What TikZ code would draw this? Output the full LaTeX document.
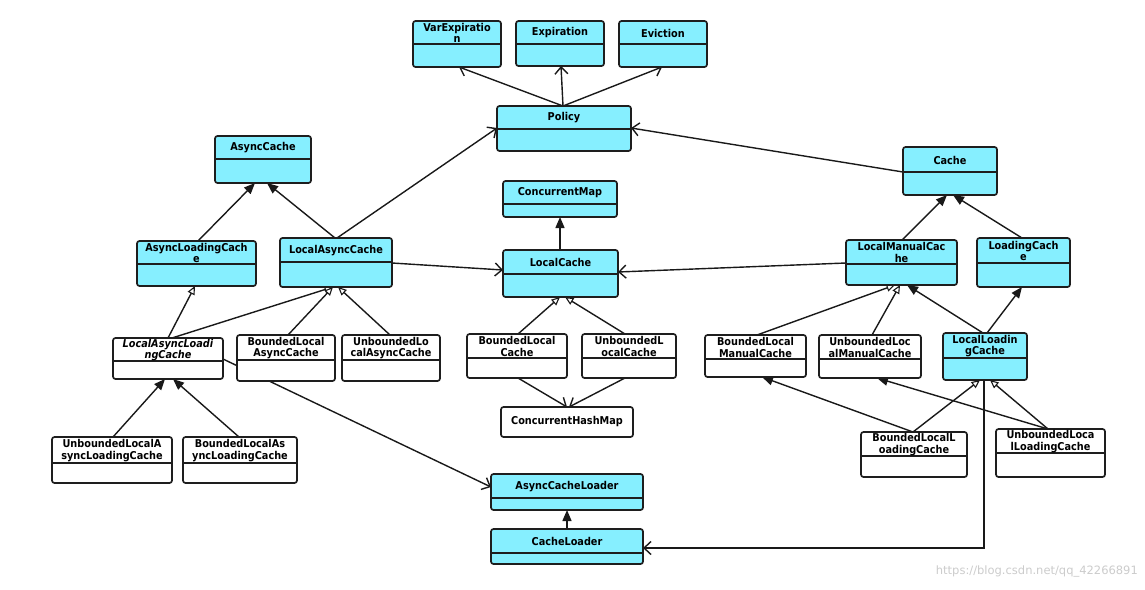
\documentclass[tikz,border=0pt]{standalone}
\usepackage{fontspec}
\setmainfont{DejaVu Sans}
\newfontfamily\classfont{DejaVu Sans Condensed}
\usetikzlibrary{arrows.meta,calc}
\definecolor{classcyan}{RGB}{134,239,255}
\definecolor{boxline}{RGB}{30,30,30}
\pgfdeclarelayer{bglayer}
\pgfdeclarelayer{edgelayer}
\pgfsetlayers{bglayer,edgelayer,main}
\tikzset{
  classbox/.style={draw=boxline, line width=1.7pt, rounded corners=2.5pt, inner sep=0pt, outer sep=0pt},
  cyanbox/.style={fill=classcyan},
  whitebox/.style={fill=white},
  divider/.style={draw=boxline, line width=1.5pt},
  classtext/.style={font=\classfont\bfseries\fontsize{10.8}{11.5}\selectfont, align=center, inner sep=0pt, text=black},
  conn/.style={draw=black!90, line width=1.4pt},
  assoc/.style={conn, -{Straight Barb[length=7pt,width=13pt,line width=1.4pt]}},
  filled/.style={conn, -{Triangle[length=11pt,width=9pt]}},
  hollow/.style={conn, -{Triangle[open,length=8.5pt,width=7.5pt,fill=white,line width=1.1pt]}},
}
% name, x1, y1, x2, y2, divider y, text, fill style
\newcommand{\umlclass}[8]{%
  \node[classbox,#8,minimum width={#4-#2},minimum height={#5-#3}] (#1) at ({(#2+#4)/2},{(#3+#5)/2}) {};
  \draw[divider] ({#2},{#6}) -- ({#4},{#6});
  \node[classtext] (#1-t) at ({(#2+#4)/2},{(#3+#6)/2+0.5}) {#7};
}
\newcommand{\umlsingle}[7]{%
  \node[classbox,#7,minimum width={#4-#2},minimum height={#5-#3}] (#1) at ({(#2+#4)/2},{(#3+#5)/2}) {};
  \node[classtext] (#1-t) at ({(#2+#4)/2},{(#3+#5)/2}) {#6};
}
\begin{document}
\begin{tikzpicture}[x=1pt,y=-1pt]
\begin{pgfonlayer}{bglayer}
\fill[white] (0,0) rectangle (1145,589);
\end{pgfonlayer}
\useasboundingbox (0,0) rectangle (1145,589);

% top row
\umlclass{varexp}{413}{21}{501}{67}{44}{VarExpiratio\\n}{cyanbox}
\umlclass{expir}{516}{21}{604}{66}{44}{Expiration}{cyanbox}
\umlclass{evict}{619}{21}{707}{67}{44}{Eviction}{cyanbox}
\umlclass{policy}{497}{106}{631}{151}{129}{Policy}{cyanbox}

% left part
\umlclass{asynccache}{215}{136}{311}{183}{159}{AsyncCache}{cyanbox}
\umlclass{alc}{137}{241}{256}{286}{264}{AsyncLoadingCach\\e}{cyanbox}
\umlclass{lac}{280}{238}{392}{287}{262}{LocalAsyncCache}{cyanbox}
\umlclass{lalc}{113}{338}{223}{379}{361}{\itshape LocalAsyncLoadi\\\itshape ngCache}{whitebox}
\umlclass{blac}{237}{335}{335}{381}{360}{BoundedLocal\\AsyncCache}{whitebox}
\umlclass{ublac}{342}{335}{440}{381}{360}{UnboundedLo\\calAsyncCache}{whitebox}
\umlclass{ulalc}{52}{437}{172}{483}{463}{UnboundedLocalA\\syncLoadingCache}{whitebox}
\umlclass{blalc}{183}{437}{297}{483}{463}{BoundedLocalAs\\yncLoadingCache}{whitebox}

% centre
\umlclass{cmap}{503}{181}{617}{217}{204}{ConcurrentMap}{cyanbox}
\umlclass{lcache}{503}{250}{618}{297}{274}{LocalCache}{cyanbox}
\umlclass{blc}{467}{334}{567}{378}{358}{BoundedLocal\\Cache}{whitebox}
\umlclass{ublc}{582}{334}{676}{378}{358}{UnboundedL\\ocalCache}{whitebox}
\umlsingle{chm}{501}{407}{633}{437}{ConcurrentHashMap}{whitebox}
\umlclass{acl}{491}{474}{643}{510}{498}{AsyncCacheLoader}{cyanbox}
\umlclass{cl}{491}{529}{643}{564}{553}{CacheLoader}{cyanbox}

% right part
\umlclass{cache}{903}{147}{997}{195}{172}{Cache}{cyanbox}
\umlclass{lmc}{846}{240}{957}{285}{264}{LocalManualCac\\he}{cyanbox}
\umlclass{lc}{977}{238}{1070}{287}{263}{LoadingCach\\e}{cyanbox}
\umlclass{blmc}{705}{335}{806}{377}{359}{BoundedLocal\\ManualCache}{whitebox}
\umlclass{ublmc}{819}{335}{921}{378}{359}{UnboundedLoc\\alManualCache}{whitebox}
\umlclass{llc}{943}{333}{1027}{380}{358}{LocalLoadin\\gCache}{cyanbox}
\umlclass{bllc}{861}{432}{967}{477}{456}{BoundedLocalL\\oadingCache}{whitebox}
\umlclass{ubllc}{996}{429}{1105}{477}{453}{UnboundedLoca\\lLoadingCache}{whitebox}

\node[font=\fontsize{11.5}{13}\selectfont, text=black!20, anchor=east, inner sep=0pt] (wm) at (1138,571) {https://blog.csdn.net/qq\_42266891};

\begin{pgfonlayer}{edgelayer}
\draw[assoc] (563,0 |- policy.north) -- (459,0 |- varexp.south);
\draw[assoc] (563,0 |- policy.north) -- (561,0 |- expir.south);
\draw[assoc] (563,0 |- policy.north) -- (662,0 |- evict.south);
\draw[assoc] (337,0 |- lac.north) -- (policy.west |- 0,128);
\draw[assoc] (cache.west |- 0,172) -- (policy.east |- 0,128);
\draw[filled] (198,0 |- alc.north) -- (255,0 |- asynccache.south);
\draw[filled] (335,0 |- lac.north) -- (267,0 |- asynccache.south);
\draw[assoc] (lac.east |- 0,263) -- (lcache.west |- 0,270);
\draw[assoc] (lmc.west |- 0,263) -- (lcache.east |- 0,272);
\draw[filled] (560,0 |- lcache.north) -- (560,0 |- cmap.south);
\draw[filled] (902,0 |- lmc.north) -- (947,0 |- cache.south);
\draw[filled] (1022,0 |- lc.north) -- (953,0 |- cache.south);
\draw[hollow] (168,0 |- lalc.north) -- (195,0 |- alc.south);
\draw[hollow] (172,0 |- lalc.north) -- (333,0 |- lac.south);
\draw[hollow] (288,0 |- blac.north) -- (333,0 |- lac.south);
\draw[hollow] (390,0 |- ublac.north) -- (338,0 |- lac.south);
\draw[filled] (113,0 |- ulalc.north) -- (165,0 |- lalc.south);
\draw[filled] (239,0 |- blalc.north) -- (173,0 |- lalc.south);
\draw[assoc] (lalc.east |- 0,359) -- (acl.west |- 0,487);
\draw[hollow] (518,0 |- blc.north) -- (560,0 |- lcache.south);
\draw[hollow] (625,0 |- ublc.north) -- (565,0 |- lcache.south);
\draw[assoc] (518,0 |- blc.south) -- (567,0 |- chm.north);
\draw[assoc] (625,0 |- ublc.south) -- (569,0 |- chm.north);
\draw[hollow] (757,0 |- blmc.north) -- (895,0 |- lmc.south);
\draw[hollow] (872,0 |- ublmc.north) -- (900,0 |- lmc.south);
\draw[filled] (983,0 |- llc.north) -- (907,0 |- lmc.south);
\draw[filled] (987,0 |- llc.north) -- (1022,0 |- lc.south);
\draw[filled] (913,0 |- bllc.north) -- (762,0 |- blmc.south);
\draw[hollow] (913,0 |- bllc.north) -- (980,0 |- llc.south);
\draw[filled] (1048,0 |- ubllc.north) -- (877,0 |- ublmc.south);
\draw[hollow] (1048,0 |- ubllc.north) -- (990,0 |- llc.south);
\draw[assoc] (984,0 |- llc.south) |- (cl.east |- 0,548);
\draw[filled] (567,0 |- cl.north) -- (567,0 |- acl.south);
\end{pgfonlayer}
\end{tikzpicture}
\end{document}
